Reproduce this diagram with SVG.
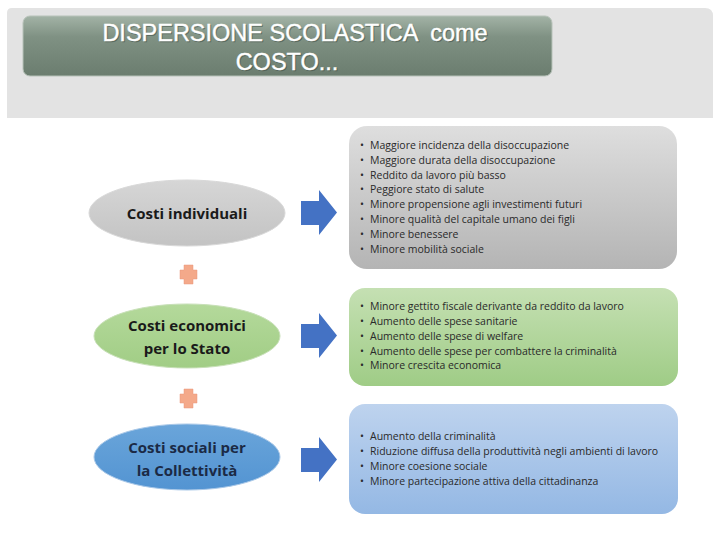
<svg xmlns="http://www.w3.org/2000/svg" width="720" height="540" viewBox="0 0 720 540">
<defs>
<linearGradient id="gTitle" x1="0" y1="0" x2="0" y2="1">
<stop offset="0" stop-color="#a3b3a6"/><stop offset="0.35" stop-color="#7f9183"/><stop offset="1" stop-color="#6b7d6f"/>
</linearGradient>
<linearGradient id="gGray" x1="0" y1="0" x2="0" y2="1">
<stop offset="0" stop-color="#dedede"/><stop offset="1" stop-color="#b4b4b4"/>
</linearGradient>
<linearGradient id="gGreen" x1="0" y1="0" x2="0" y2="1">
<stop offset="0" stop-color="#c5e0b3"/><stop offset="1" stop-color="#9fcc86"/>
</linearGradient>
<linearGradient id="gBlue" x1="0" y1="0" x2="0" y2="1">
<stop offset="0" stop-color="#bed3ee"/><stop offset="1" stop-color="#94b8e4"/>
</linearGradient>
<linearGradient id="eGray" x1="0" y1="0" x2="0" y2="1">
<stop offset="0" stop-color="#d6d6d6"/><stop offset="1" stop-color="#c3c3c3"/>
</linearGradient>
<linearGradient id="eGreen" x1="0" y1="0" x2="0" y2="1">
<stop offset="0" stop-color="#b4d99b"/><stop offset="1" stop-color="#a1cd85"/>
</linearGradient>
<linearGradient id="eBlue" x1="0" y1="0" x2="0" y2="1">
<stop offset="0" stop-color="#6aa5da"/><stop offset="1" stop-color="#5394d2"/>
</linearGradient>
</defs>
<style>
.title{font-family:"Liberation Sans",Arial,sans-serif;font-size:23.5px;fill:#ffffff;stroke:#ffffff;stroke-width:0.4;text-anchor:middle;white-space:pre}
.tshadow{fill:#3d4a40;stroke:#3d4a40;opacity:0.55}
.lab{font-family:"Open Sans","Liberation Sans",sans-serif;font-weight:bold;font-size:15px;fill:#1a1a1a;text-anchor:middle}
.item{font-family:"Open Sans","Liberation Sans",sans-serif;font-size:10.5px;fill:#2a2a2a}
.arrow{fill:#4472c4}
.plus{fill:#f4a98a;stroke:#e8967a;stroke-width:0.5}
</style>
<rect width="720" height="540" fill="#ffffff"/>
<path d="M12 8 H705 Q713 8 713 16 V118 H7 V13 Q7 8 12 8 Z" fill="#e3e3e3"/>
<g id="title">
<rect x="23" y="16" width="529" height="60" rx="7" fill="url(#gTitle)" stroke="#b7c2b9" stroke-width="1"/>
<text class="title tshadow" x="296" y="42" xml:space="preserve">DISPERSIONE SCOLASTICA  come</text>
<text class="title tshadow" x="288" y="71">COSTO...</text>
<text class="title" x="295" y="41" xml:space="preserve">DISPERSIONE SCOLASTICA  come</text>
<text class="title" x="287" y="70">COSTO...</text>
</g>
<g id="node-individuali">
<ellipse cx="187" cy="213" rx="98" ry="33" fill="url(#eGray)" stroke="#d8d8d8" stroke-width="1"/>
<text class="lab" x="187" y="219">Costi individuali</text>
</g>
<g id="node-economici">
<ellipse cx="187" cy="336" rx="93" ry="32" fill="url(#eGreen)" stroke="#c8e0b8" stroke-width="1"/>
<text class="lab" x="187" y="331">Costi economici</text>
<text class="lab" x="187" y="354">per lo Stato</text>
</g>
<g id="node-sociali">
<ellipse cx="187" cy="457" rx="93" ry="33" fill="url(#eBlue)" stroke="#a9c8e8" stroke-width="1"/>
<text class="lab" x="187" y="453" style="fill:#1b2a45">Costi sociali per</text>
<text class="lab" x="187" y="476" style="fill:#1b2a45">la Collettività</text>
</g>
<g id="plus1"><path class="plus" d="M184 265 H193 V270 H197 V279 H193 V284 H184 V279 H180 V270 H184 Z"/></g>
<g id="plus2"><path class="plus" d="M184 389 H193 V394 H197 V403 H193 V408 H184 V403 H180 V394 H184 Z"/></g>
<g id="box-individuali">
<rect x="349" y="126" width="328" height="143" rx="18" fill="url(#gGray)"/>
<g class="item">
<text x="360" y="149">•<tspan x="370">Maggiore incidenza della disoccupazione</tspan></text>
<text x="360" y="164">•<tspan x="370">Maggiore durata della disoccupazione</tspan></text>
<text x="360" y="179">•<tspan x="370">Reddito da lavoro più basso</tspan></text>
<text x="360" y="193">•<tspan x="370">Peggiore stato di salute</tspan></text>
<text x="360" y="208">•<tspan x="370">Minore propensione agli investimenti futuri</tspan></text>
<text x="360" y="223">•<tspan x="370">Minore qualità del capitale umano dei figli</tspan></text>
<text x="360" y="238">•<tspan x="370">Minore benessere</tspan></text>
<text x="360" y="253">•<tspan x="370">Minore mobilità sociale</tspan></text>
</g>
</g>
<g id="box-economici">
<rect x="349" y="288" width="329" height="98" rx="16" fill="url(#gGreen)"/>
<g class="item">
<text x="360" y="310">•<tspan x="370">Minore gettito fiscale derivante da reddito da lavoro</tspan></text>
<text x="360" y="325">•<tspan x="370">Aumento delle spese sanitarie</tspan></text>
<text x="360" y="340">•<tspan x="370">Aumento delle spese di welfare</tspan></text>
<text x="360" y="355">•<tspan x="370">Aumento delle spese per combattere la criminalità</tspan></text>
<text x="360" y="369">•<tspan x="370">Minore crescita economica</tspan></text>
</g>
</g>
<g id="box-sociali">
<rect x="349" y="404" width="329" height="110" rx="16" fill="url(#gBlue)"/>
<g class="item">
<text x="360" y="440">•<tspan x="370">Aumento della criminalità</tspan></text>
<text x="360" y="455">•<tspan x="370">Riduzione diffusa della produttività negli ambienti di lavoro</tspan></text>
<text x="360" y="470">•<tspan x="370">Minore coesione sociale</tspan></text>
<text x="360" y="485">•<tspan x="370">Minore partecipazione attiva della cittadinanza</tspan></text>
</g>
</g>
<g id="connectors">
<path class="arrow" d="M301 201 H319 V190 L337 212.5 L319 235 V225 H301 Z"/>
<path class="arrow" d="M301 324 H319 V313 L337 335.5 L319 358 V348 H301 Z"/>
<path class="arrow" d="M301 448 H319 V437 L337 459.5 L319 482 V472 H301 Z"/>
</g>
</svg>
